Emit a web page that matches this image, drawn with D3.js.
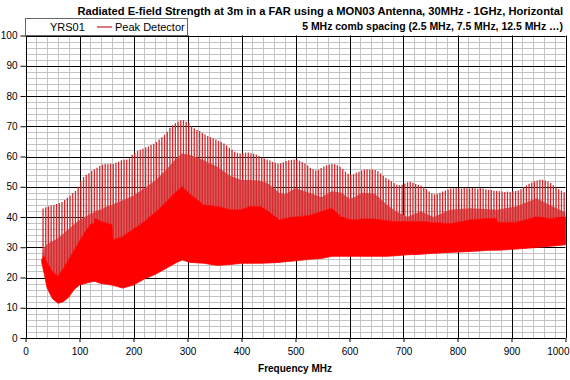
<!DOCTYPE html>
<html>
<head>
<meta charset="utf-8">
<script src="https://cdn.jsdelivr.net/npm/d3@7/dist/d3.min.js"></script>
<style>
  body { margin: 0; background: #fff; }
  svg { display: block; font-family: "Liberation Sans", Arial, sans-serif; }
</style>
</head>
<body>
<svg id="chart" width="570" height="380"></svg>
<script>
// ---------- data ----------
const titleText = "Radiated E-field Strength at 3m in a FAR using a MON03 Antenna, 30MHz - 1GHz, Horizontal";
const subtitleText = "5 MHz comb spacing (2.5 MHz, 7.5 MHz, 12.5 MHz \u2026)";
const seriesName = "Peak Detector";
const legendTitle = "YRS01";
const xLabel = "Frequency MHz";
const xTicks = [0, 100, 200, 300, 400, 500, 600, 700, 800, 900, 1000];
const yTicks = [0, 10, 20, 30, 40, 50, 60, 70, 80, 90, 100];

// comb lines: 32.5, 37.5, ... 997.5 MHz (5 MHz spacing) — peak level
const combPeak = [
  42.8,43.2,43.5,43.8,44.0,44.3,44.6,45.0,45.6,46.4,
  47.0,47.9,48.6,50.0,51.8,53.2,54.0,54.5,55.3,55.8,
  56.3,56.9,57.3,57.5,57.4,57.6,57.5,57.9,58.3,58.8,
  58.9,59.0,59.4,60.6,61.2,61.8,62.2,62.6,63.0,63.3,
  63.8,64.2,64.8,65.6,66.4,67.2,68.2,69.5,70.3,71.0,
  71.6,72.0,72.0,71.5,71.0,70.0,69.3,68.8,68.4,67.8,
  67.3,66.8,66.4,66.0,65.6,65.2,64.8,64.3,63.6,62.9,
  62.2,61.6,61.2,61.0,61.1,61.3,61.3,61.1,60.9,60.6,
  60.2,59.7,59.3,59.0,58.7,58.2,57.9,57.6,57.8,58.1,
  58.5,58.8,58.9,59.0,58.9,58.6,58.2,57.7,57.0,56.3,
  55.8,55.4,55.6,56.2,56.7,57.1,57.3,57.5,57.4,57.1,
  56.6,55.9,55.0,54.3,54.0,54.2,54.6,55.0,55.4,55.7,
  55.8,55.7,55.7,55.5,55.1,54.4,53.6,52.9,52.4,51.8,
  51.2,50.7,50.5,50.7,51.1,51.5,51.6,51.3,50.9,50.6,
  50.3,49.8,49.2,48.4,47.8,47.5,47.6,48.0,48.4,48.8,
  49.1,49.4,49.5,49.6,49.5,49.4,49.6,49.5,49.4,49.6,
  49.5,49.3,49.5,49.4,49.2,49.0,48.9,48.7,48.6,48.5,
  48.4,48.3,48.4,48.3,48.5,48.6,48.8,49.2,49.8,50.4,
  51.0,51.4,51.8,52.1,52.3,52.3,52.1,51.7,51.2,50.5,
  49.8,49.2,48.7,48.2
];
const combFreq = combPeak.map((_, i) => 32.5 + 5 * i);

// noise-floor band and comb-shoulder envelope
const envFreq   = [30, 35, 40, 50, 60, 70, 80, 90, 100, 110, 120, 127, 129, 140, 150, 160, 162, 180, 200, 220, 240, 260, 280, 290, 305, 330, 355, 380, 400, 415, 435, 450, 470, 480, 500, 525, 548, 567, 585, 600, 610, 622, 646, 670, 685, 707, 732, 756, 786, 823, 860, 872, 875, 909, 946, 971, 1000];
const floorLow  = [25, 21, 16.5, 13, 11.5, 12, 13.5, 16, 17.5, 18, 18.5, 18.7, 18.7, 18, 17.8, 17.5, 17.4, 16.5, 17.5, 19.5, 21, 23, 25, 25.8, 25, 24.7, 24, 24.3, 24.7, 24.7, 24.7, 24.8, 25, 25.2, 25.5, 26, 26.3, 27, 27, 27, 27, 27, 27, 27, 27.2, 27.5, 27.7, 28, 28.3, 28.6, 29, 29, 29, 29.4, 29.9, 30.3, 30.8];
const floorHigh = [26, 27, 25, 22, 20.5, 23, 26, 29, 32, 35, 37.5, 38, 39.5, 38.5, 38, 37.5, 32.5, 33.5, 36, 38.5, 41.5, 45, 48.5, 50, 47.5, 44, 43.5, 42.4, 42.4, 43.5, 43.5, 41.8, 39, 39.5, 40, 40.5, 41.8, 42.9, 40, 39.2, 39, 39.3, 39.3, 38.8, 38.5, 38.5, 38.5, 38.2, 37.8, 39, 39.6, 39.5, 38.2, 38.3, 40, 39.5, 40];
const shoulder  = [26, 30, 31, 32, 33, 34.5, 36, 37.5, 39, 40, 41, 41.5, 42, 42.5, 43.5, 44, 44.2, 45.5, 47, 49.5, 52, 55.5, 59.5, 61, 60.5, 58.8, 56.6, 53.5, 52.2, 52.2, 52, 51, 48, 47.5, 49.5, 48, 46.5, 48.5, 48, 46, 46.5, 48, 47.8, 44, 42, 40, 41.8, 40, 42.4, 42.9, 42.6, 42.4, 42.5, 43.5, 46.2, 44, 41.5];

// ---------- chart ----------
const svg = d3.select("#chart");
const x = d3.scaleLinear().domain([0, 1000]).range([25.5, 565.5]);
const y = d3.scaleLinear().domain([0, 100]).range([338, 35.5]);

// grid
const grid = svg.append("g");
grid.selectAll(".vminor").data(d3.range(0, 1001, 20).filter(v => v % 100 !== 0))
  .join("line").attr("x1", d => Math.round(x(d)) + 0.5).attr("x2", d => Math.round(x(d)) + 0.5)
  .attr("y1", y(0)).attr("y2", y(100)).attr("stroke", "#c4c4c4").attr("stroke-width", 1);
grid.selectAll(".hminor").data(d3.range(0, 101, 2).filter(v => v % 10 !== 0))
  .join("line").attr("y1", d => Math.round(y(d)) + 0.5).attr("y2", d => Math.round(y(d)) + 0.5)
  .attr("x1", x(0)).attr("x2", x(1000)).attr("stroke", "#c4c4c4").attr("stroke-width", 1);
grid.selectAll(".vmajor").data(xTicks)
  .join("line").attr("x1", d => Math.round(x(d)) + 0.5).attr("x2", d => Math.round(x(d)) + 0.5)
  .attr("y1", y(0)).attr("y2", y(100)).attr("stroke", "#000").attr("stroke-width", 1);
grid.selectAll(".hmajor").data(yTicks)
  .join("line").attr("y1", d => Math.round(y(d)) + 0.5).attr("y2", d => Math.round(y(d)) + 0.5)
  .attr("x1", x(0)).attr("x2", x(1000)).attr("stroke", "#000").attr("stroke-width", 1);

// data
const env = envFreq.map((f, i) => ({ f, lo: floorLow[i], hi: floorHigh[i], sh: shoulder[i] }));
const hiAt = d3.scaleLinear().domain(envFreq).range(floorHigh);
const plot = svg.append("g");

plot.append("path").datum(env)
  .attr("d", d3.area().x(d => x(d.f)).y0(d => y(d.hi)).y1(d => y(d.sh)))
  .attr("fill", "rgb(220,90,92)");

plot.selectAll(".spike").data(combFreq.map((f, i) => ({ f, p: combPeak[i] })))
  .join("line")
  .attr("x1", d => x(d.f)).attr("x2", d => x(d.f))
  .attr("y1", d => y(hiAt(d.f))).attr("y2", d => y(d.p))
  .attr("stroke", "rgb(212,40,44)").attr("stroke-width", 1.3);

plot.append("path").datum(env)
  .attr("d", d3.area().x(d => x(d.f)).y0(d => y(d.lo)).y1(d => y(d.hi)))
  .attr("fill", "#ff0000").attr("stroke", "#ff0000").attr("stroke-width", 0.8);

// axes
const ax = svg.append("g").attr("transform", `translate(0,${y(0)})`)
  .call(d3.axisBottom(x).tickValues(xTicks).tickFormat(d3.format("d")).tickSize(4).tickPadding(6));
ax.select(".domain").remove();
ax.selectAll("text").attr("font-size", 10).attr("fill", "#000").attr("font-family", "Liberation Sans, Arial, sans-serif");
ax.selectAll("line").attr("stroke", "#000");
// keep the last label fully inside the picture
ax.selectAll(".tick").filter(d => d === 1000).select("text")
  .attr("text-anchor", "end").attr("x", 569 - x(1000));

const ay = svg.append("g").attr("transform", `translate(${x(0)},0)`)
  .call(d3.axisLeft(y).tickValues(yTicks).tickFormat(d3.format("d")).tickSize(5).tickPadding(3));
ay.select(".domain").remove();
ay.selectAll("text").attr("font-size", 10).attr("fill", "#000").attr("font-family", "Liberation Sans, Arial, sans-serif");
ay.selectAll("line").attr("stroke", "#000");

// titles
function fitText(sel, target) {
  const len = sel.node().getComputedTextLength();
  const fs = parseFloat(sel.attr("font-size"));
  sel.attr("font-size", (fs * target / len).toFixed(2));
}
const t1 = svg.append("text").attr("x", 563).attr("y", 15).attr("text-anchor", "end")
  .attr("font-size", 11).attr("font-weight", "bold").text(titleText);
fitText(t1, 486);
const t2 = svg.append("text").attr("x", 563).attr("y", 30).attr("text-anchor", "end")
  .attr("font-size", 11).attr("font-weight", "bold").text(subtitleText);
fitText(t2, 261);
svg.append("text").attr("x", 295).attr("y", 372).attr("text-anchor", "middle")
  .attr("font-size", 10).attr("font-weight", "bold").text(xLabel);

// legend
const lg = svg.append("g");
lg.append("rect").attr("x", 25.5).attr("y", 18.5).attr("width", 162).attr("height", 17)
  .attr("fill", "#fff").attr("stroke", "#666").attr("stroke-width", 1);
lg.append("text").attr("x", 50).attr("y", 31).attr("font-size", 11).text(legendTitle);
lg.append("line").attr("x1", 97).attr("x2", 112).attr("y1", 27).attr("y2", 27)
  .attr("stroke", "#c81e28").attr("stroke-width", 1.2);
lg.append("text").attr("x", 115).attr("y", 31).attr("font-size", 11).text(seriesName);
</script>
</body>
</html>
